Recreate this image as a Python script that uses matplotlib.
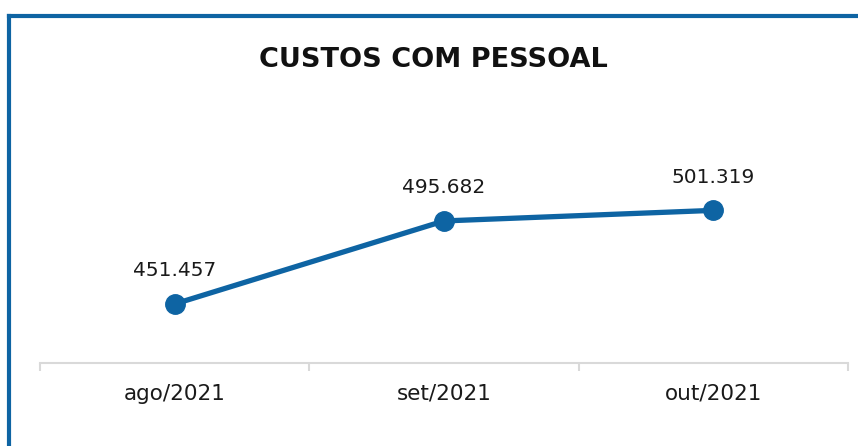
import matplotlib
matplotlib.use('Agg')
import matplotlib.pyplot as plt
from matplotlib.lines import Line2D

meses = ['ago/2021', 'set/2021', 'out/2021']
custos = [451457, 495682, 501319]
rotulos = ['451.457', '495.682', '501.319']

AZUL = '#0E64A3'
CINZA = '#D9D9D9'

fig = plt.figure(figsize=(8.58, 4.46), dpi=100)
ax = fig.add_axes([0.0466, 0.1861, 0.9417, 0.5471])

x = list(range(len(meses)))
ax.plot(x, custos, color=AZUL, linewidth=3.8, marker='o', markersize=14,
        solid_capstyle='round', zorder=3)
for xi, yi, txt in zip(x, custos, rotulos):
    ax.annotate(txt, (xi, yi), xytext=(0, 17), textcoords='offset points',
                ha='center', va='bottom', fontsize=14.5, color='#1a1a1a')

ax.set_xlim(-0.5, 2.5)
ax.set_ylim(420000, 550000)
ax.set_xticks(x)
ax.set_xticklabels(meses, fontsize=15.5, color='#1a1a1a')
ax.set_xticks([-0.5, 0.5, 1.5, 2.5], minor=True)
ax.tick_params(axis='x', which='major', length=0, pad=15)
ax.tick_params(axis='x', which='minor', length=6, width=1.5, color=CINZA)
ax.set_yticks([])
for s in ['top', 'right', 'left']:
    ax.spines[s].set_visible(False)
ax.spines['bottom'].set_color(CINZA)
ax.spines['bottom'].set_linewidth(1.5)

fig.text(0.505, 0.865, 'CUSTOS COM PESSOAL', ha='center', va='center',
         fontsize=19.5, fontweight='bold', color='#111111')

# moldura azul (só aparecem o lado esquerdo e o topo)
fig.add_artist(Line2D([0.0105, 0.0105], [0.0, 0.9652], transform=fig.transFigure,
                      color=AZUL, linewidth=3, solid_capstyle='projecting'))
fig.add_artist(Line2D([0.0105, 1.0], [0.9652, 0.9652], transform=fig.transFigure,
                      color=AZUL, linewidth=3, solid_capstyle='projecting'))

fig.savefig('out.png', dpi=100)
